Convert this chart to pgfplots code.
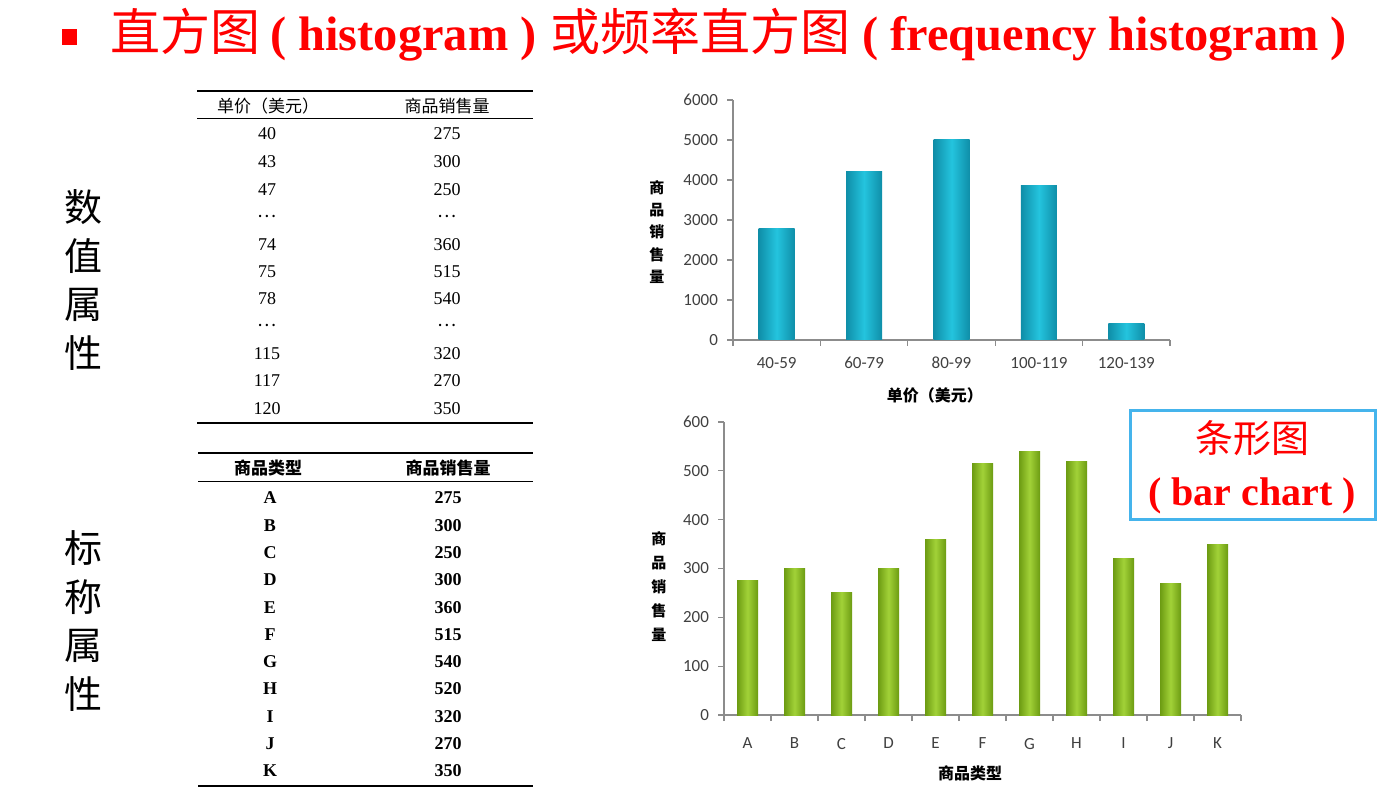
\documentclass[border=0pt]{standalone}
\usepackage{pgfplots}
\pgfplotsset{compat=1.18}
\usepackage{fontspec}
\setmainfont{Liberation Serif}
\newfontfamily\cjk{Noto Sans CJK SC}
\newfontfamily\tickfont{Carlito}
\definecolor{titlered}{HTML}{FF0000}
\definecolor{axisgray}{HTML}{8C8C8C}
\definecolor{ticktext}{HTML}{404040}
\definecolor{cyanL}{HTML}{24C4DE}
\definecolor{cyanD}{HTML}{0F8EA8}
\definecolor{greenL}{HTML}{A2D238}
\definecolor{greenD}{HTML}{6C9B12}
\definecolor{boxblue}{HTML}{45B4EC}
\pgfplotsset{
  slidechart/.style={
    scale only axis, anchor=south west, clip=false,
    axis lines*=left,
    axis line style={draw=axisgray, line width=0.6pt},
    tick align=outside,
    tick style={draw=axisgray, line width=0.6pt},
    major tick length=3pt, minor tick length=3pt,
    major x tick style={draw=none},
    ticklabel style={font=\tickfont\fontsize{8.5}{10}\selectfont, text=ticktext},
    /pgf/number format/assume math mode=true,
    /pgf/number format/1000 sep={},
    xticklabel style={yshift=-2pt},
    yticklabel style={xshift=-1pt},
    ylabel style={rotate=-90, anchor=center, align=center,
      font=\cjk\bfseries\fontsize{7.5}{11.2}\selectfont, text=black},
    xlabel style={anchor=center, font=\cjk\bfseries\fontsize{8}{10}\selectfont, text=black},
  },
  cyanbar/.style={ybar, bar shift=0pt, bar width=18pt, draw=none,
    left color=cyanD, right color=cyanD, middle color=cyanL},
  greenbar/.style={ybar, bar shift=0pt, bar width=10.5pt, draw=none,
    left color=greenD, right color=greenD, middle color=greenL},
}
\begin{document}
\begin{tikzpicture}
\begin{scope}[x=0.5pt,y=-0.5pt]
\useasboundingbox (0,0) rectangle (1382,790);
% title
\fill[titlered] (62,29) rectangle (77,45);
\node[anchor=west, text=titlered, inner sep=0pt] at (110,35)
  {{\cjk\fontsize{25}{28}\selectfont 直方图}\hspace{5pt}{\bfseries\fontsize{24.2}{28}\selectfont ( histogram )}\hspace{7pt}{\cjk\fontsize{25}{28}\selectfont 或频率直方图}\hspace{6pt}{\bfseries\fontsize{24.2}{28}\selectfont ( frequency histogram )}};
% side labels
\foreach \c/\yy in {数/207,值/256,属/305,性/353}
  \node[font=\cjk\fontsize{19}{20}\selectfont, inner sep=0pt] at (83,\yy) {\c};
\foreach \c/\yy in {标/548,称/597,属/646,性/694}
  \node[font=\cjk\fontsize{19}{20}\selectfont, inner sep=0pt] at (83,\yy) {\c};
% table 1
\draw[line width=1pt] (197,91) -- (533,91);
\draw[line width=0.5pt] (197,119) -- (533,119);
\draw[line width=1.2pt] (197,423) -- (533,423);
\node[font=\cjk\fontsize{8.5}{10}\selectfont, inner sep=0pt] at (268,106) {单价（美元）};
\node[font=\cjk\fontsize{8.5}{10}\selectfont, inner sep=0pt] at (447,106) {商品销售量};
\foreach \yy/\a/\b in {134/40/275,162/43/300,190/47/250,245/74/360,272/75/515,299/78/540,354/115/320,381/117/270,409/120/350}{
  \node[font=\fontsize{9}{10}\selectfont, inner sep=0pt] at (267,\yy) {\a};
  \node[font=\fontsize{9}{10}\selectfont, inner sep=0pt] at (447,\yy) {\b};
}
\foreach \yy in {216,325}{
  \node[font=\fontsize{9}{10}\selectfont, inner sep=0pt] at (267,\yy) {\cjk ⋯};
  \node[font=\fontsize{9}{10}\selectfont, inner sep=0pt] at (447,\yy) {\cjk ⋯};
}
% table 2
\draw[line width=1pt] (198,453) -- (533,453);
\draw[line width=0.5pt] (198,482) -- (533,482);
\draw[line width=1.2pt] (198,786) -- (533,786);
\node[font=\cjk\bfseries\fontsize{8.5}{10}\selectfont, inner sep=0pt] at (268,468) {商品类型};
\node[font=\cjk\bfseries\fontsize{8.5}{10}\selectfont, inner sep=0pt] at (448,468) {商品销售量};
\foreach \i/\a/\b in {0/A/275,1/B/300,2/C/250,3/D/300,4/E/360,5/F/515,6/G/540,7/H/520,8/I/320,9/J/270,10/K/350}{
  \node[font=\bfseries\fontsize{9}{10}\selectfont, inner sep=0pt] at (270,498+27.3*\i) {\a};
  \node[font=\bfseries\fontsize{9}{10}\selectfont, inner sep=0pt] at (448,498+27.3*\i) {\b};
}
% bar chart box
\draw[boxblue, line width=1.5pt] (1130,411) rectangle (1375,520);
\node[text=titlered, font=\cjk\fontsize{19}{20}\selectfont, inner sep=0pt] at (1252,438) {条形图};
\node[text=titlered, font=\bfseries\fontsize{20}{22}\selectfont, inner sep=0pt] at (1252,496) {( bar chart )};
\end{scope}

% histogram
\begin{axis}[slidechart,
  at={(366.5pt,-170pt)}, width=218.5pt, height=120pt,
  xmin=-0.5, xmax=4.5, ymin=0, ymax=6000,
  xtick={0,...,4}, xticklabels={40-59,60-79,80-99,100-119,120-139},
  minor xtick={-0.5,0.5,...,4.5},
  ytick={0,1000,...,6000},
  ylabel={商\\品\\销\\售\\量},
  ylabel style={at={(axis description cs:-0.174,0.45)}},
  xlabel={单价（美元）},
  xlabel style={at={(axis description cs:0.462,-0.229)}},
]
\addplot[cyanbar] coordinates {(0,2780)};
\addplot[cyanbar] coordinates {(1,4220)};
\addplot[cyanbar] coordinates {(2,5000)};
\addplot[cyanbar] coordinates {(3,3870)};
\addplot[cyanbar] coordinates {(4,400)};
\end{axis}

% bar chart
\begin{axis}[slidechart,
  at={(362pt,-357.5pt)}, width=258.5pt, height=146.5pt,
  xmin=-0.5, xmax=10.5, ymin=0, ymax=600,
  xtick={0,...,10}, xticklabels={A,B,C,D,E,F,G,H,I,J,K},
  minor xtick={-0.5,0.5,...,10.5},
  ytick={0,100,...,600},
  xticklabel style={yshift=-3pt},
  ylabel={商\\品\\销\\售\\量},
  ylabel style={at={(axis description cs:-0.126,0.44)}, font=\cjk\bfseries\fontsize{7.5}{12}\selectfont},
  xlabel={商品类型},
  xlabel style={at={(axis description cs:0.476,-0.198)}},
]
\addplot[greenbar] coordinates {(0,275)};
\addplot[greenbar] coordinates {(1,300)};
\addplot[greenbar] coordinates {(2,250)};
\addplot[greenbar] coordinates {(3,300)};
\addplot[greenbar] coordinates {(4,360)};
\addplot[greenbar] coordinates {(5,515)};
\addplot[greenbar] coordinates {(6,540)};
\addplot[greenbar] coordinates {(7,520)};
\addplot[greenbar] coordinates {(8,320)};
\addplot[greenbar] coordinates {(9,270)};
\addplot[greenbar] coordinates {(10,350)};
\end{axis}
\end{tikzpicture}
\end{document}
